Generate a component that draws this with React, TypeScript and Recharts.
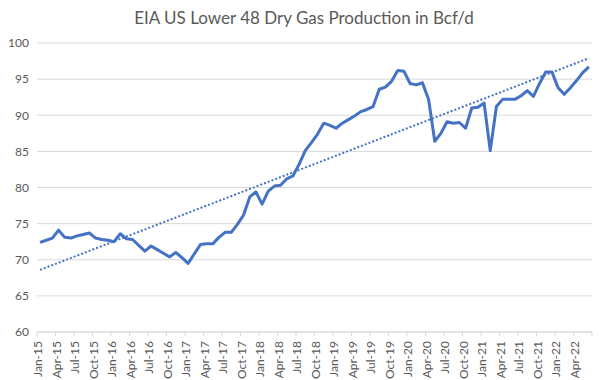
import React from "react";
import { CartesianGrid, Line, LineChart, XAxis, YAxis } from "recharts";

// monthly, Jan-15 .. Jun-22
const months = [
  "Jan-15", "Feb-15", "Mar-15", "Apr-15", "May-15", "Jun-15", "Jul-15", "Aug-15", "Sep-15", "Oct-15", "Nov-15", "Dec-15",
  "Jan-16", "Feb-16", "Mar-16", "Apr-16", "May-16", "Jun-16", "Jul-16", "Aug-16", "Sep-16", "Oct-16", "Nov-16", "Dec-16",
  "Jan-17", "Feb-17", "Mar-17", "Apr-17", "May-17", "Jun-17", "Jul-17", "Aug-17", "Sep-17", "Oct-17", "Nov-17", "Dec-17",
  "Jan-18", "Feb-18", "Mar-18", "Apr-18", "May-18", "Jun-18", "Jul-18", "Aug-18", "Sep-18", "Oct-18", "Nov-18", "Dec-18",
  "Jan-19", "Feb-19", "Mar-19", "Apr-19", "May-19", "Jun-19", "Jul-19", "Aug-19", "Sep-19", "Oct-19", "Nov-19", "Dec-19",
  "Jan-20", "Feb-20", "Mar-20", "Apr-20", "May-20", "Jun-20", "Jul-20", "Aug-20", "Sep-20", "Oct-20", "Nov-20", "Dec-20",
  "Jan-21", "Feb-21", "Mar-21", "Apr-21", "May-21", "Jun-21", "Jul-21", "Aug-21", "Sep-21", "Oct-21", "Nov-21", "Dec-21",
  "Jan-22", "Feb-22", "Mar-22", "Apr-22", "May-22", "Jun-22",
];

const production = [
  72.4, 72.7, 73.0, 74.1, 73.1, 73.0, 73.3, 73.5, 73.7, 73.0, 72.8, 72.7,
  72.5, 73.6, 72.9, 72.8, 72.0, 71.2, 71.9, 71.4, 70.9, 70.4, 71.0, 70.3,
  69.5, 70.8, 72.1, 72.2, 72.2, 73.1, 73.8, 73.8, 74.9, 76.2, 78.7, 79.4,
  77.7, 79.5, 80.2, 80.3, 81.2, 81.6, 83.2, 85.1, 86.2, 87.4, 88.9, 88.6,
  88.2, 88.9, 89.4, 89.9, 90.5, 90.8, 91.2, 93.6, 93.9, 94.7, 96.2, 96.1,
  94.4, 94.2, 94.5, 92.2, 86.4, 87.5, 89.1, 88.9, 89.0, 88.2, 91.0, 91.1,
  91.7, 85.1, 91.2, 92.2, 92.2, 92.2, 92.7, 93.4, 92.6, 94.4, 96.0, 96.0,
  93.8, 92.9, 93.8, 94.8, 95.9, 96.7,
];

// linear trendline ends
const trendStart = 68.6;
const trendEnd = 97.9;

const yTicks = [60, 65, 70, 75, 80, 85, 90, 95, 100];
const xTicks = [0, 3, 6, 9, 12, 15, 18, 21, 24, 27, 30, 33, 36, 39, 42, 45, 48, 51, 54, 57, 60, 63, 66, 69, 72, 75, 78, 81, 84, 87, 90];

const data = production.map((v, i) => ({ x: i + 0.5, month: months[i], v }));
const trend = [
  { x: 0.5, t: trendStart },
  { x: production.length - 0.5, t: trendEnd },
];

const FONT = "Lato, 'Open Sans', sans-serif";
const GREY = "#595959";
const BLUE = "#4472C4";

function MonthTick(props: any) {
  const { x, y, payload } = props;
  const label = months[payload.value] ?? "";
  if (!label) return null;
  return (
    <text
      transform={`translate(${x + 1},${y + 3}) rotate(-90)`}
      textAnchor="end"
      dy="0.35em"
      fontSize={12}
      fill={GREY}
      fontFamily={FONT}
    >
      {label}
    </text>
  );
}

export default function App() {
  return (
    <div
      style={{
        position: "absolute",
        left: 0,
        top: 0,
        width: 600,
        height: 380,
        background: "#fff",
        fontFamily: FONT,
      }}
    >
      <div
        style={{
          position: "absolute",
          top: 7,
          left: 0,
          width: 608,
          textAlign: "center",
          fontSize: 17,
          color: GREY,
        }}
      >
        EIA US Lower 48 Dry Gas Production in Bcf/d
      </div>
      <LineChart
        width={600}
        height={380}
        margin={{ top: 43, right: 8, left: 0, bottom: 0 }}
      >
        <CartesianGrid stroke="#D9D9D9" vertical={false} />
        <XAxis
          type="number"
          dataKey="x"
          domain={[0, 90]}
          ticks={xTicks}
          interval={0}
          height={48}
          stroke="#D9D9D9"
          tickSize={4}
          tick={<MonthTick />}
        />
        <YAxis
          type="number"
          domain={[60, 100]}
          ticks={yTicks}
          width={37}
          axisLine={false}
          tickLine={false}
          tick={{ fontSize: 12, fill: GREY, fontFamily: FONT }}
        />
        <Line
          data={data}
          dataKey="v"
          type="linear"
          stroke={BLUE}
          strokeWidth={3}
          strokeLinejoin="round"
          dot={false}
          isAnimationActive={false}
        />
        <Line
          data={trend}
          dataKey="t"
          type="linear"
          stroke={BLUE}
          strokeWidth={2}
          strokeDasharray="2 2"
          dot={false}
          isAnimationActive={false}
        />
      </LineChart>
    </div>
  );
}
